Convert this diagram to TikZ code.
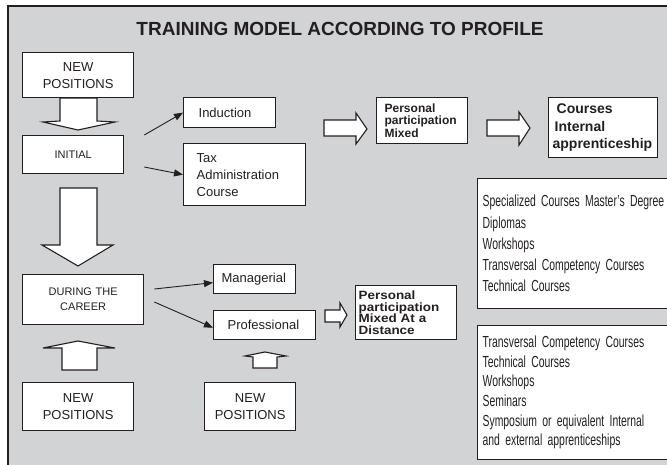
\documentclass[tikz,border=0pt]{standalone}
\usepackage{fontspec}
\setmainfont{Liberation Sans}
\newfontfamily\condfont[FakeStretch=0.65]{Liberation Sans}
\newfontfamily\widefont[FakeStretch=1.12]{Liberation Sans}
\usetikzlibrary{arrows.meta}
\definecolor{panel}{RGB}{209,211,212}
\definecolor{ink}{RGB}{35,31,32}

\begin{document}
\begin{tikzpicture}[x=1pt,y=-1pt,
  box/.style={draw=ink, line width=1.3pt, fill=white, rectangle,
    anchor=north west, text=ink, inner ysep=0pt},
  conn/.style={draw=ink, line width=0.9pt, -{Triangle[length=9pt,width=7pt]}},
  blockarrow/.style={draw=ink, line width=1.1pt, fill=white, line join=miter},
  plain/.style={font=\fontsize{13}{17}\selectfont},
  caps/.style={font=\fontsize{11}{15}\selectfont},
  strong/.style={font=\bfseries\fontsize{12}{12.5}\selectfont},
  list/.style={font=\condfont\fontsize{16}{21.25}\selectfont}]

\useasboundingbox (0,0) rectangle (667,464);
\clip (0,0) rectangle (667,464);

% panel
\draw[fill=panel, draw=ink, line width=1.5pt] (8,6) rectangle (700,500);

% heading
\node[text=ink, font=\bfseries\fontsize{19}{22}\selectfont, inner sep=0pt] (title) at (340,28.5)
  {TRAINING MODEL ACCORDING TO PROFILE};

% left column
\node[box, plain, minimum width=111pt, minimum height=45pt, text width=101pt,
  inner xsep=5pt, align=center] (np1) at (22,52) {NEW\\POSITIONS};
\node[box, caps, minimum width=101pt, minimum height=38pt, text width=91pt,
  inner xsep=5pt, align=center] (initial) at (22,135) {INITIAL};
\node[box, caps, minimum width=121pt, minimum height=50pt, text width=111pt,
  inner xsep=5pt, align=center] (career) at (22,274) {DURING THE\\CAREER};
\node[box, plain, minimum width=111pt, minimum height=48pt, text width=101pt,
  inner xsep=5pt, align=center] (np2) at (22,382) {NEW\\POSITIONS};

% initial branch
\node[box, plain, minimum width=92pt, minimum height=30pt, text width=62pt,
  inner xsep=15pt, align=left] (induction) at (183,97) {Induction};
\node[box, plain, minimum width=122pt, minimum height=62pt, text width=96pt,
  inner xsep=13pt, align=left] (tax) at (183,143) {Tax\\Administration\\Course};

% career branch
\node[box, plain, minimum width=82pt, minimum height=29pt, text width=66pt,
  inner xsep=8pt, align=left] (managerial) at (213,264) {Managerial};
\node[box, plain, minimum width=102pt, minimum height=29pt, text width=74pt,
  inner xsep=14pt, align=left] (professional) at (213,310) {Professional};
\node[box, plain, minimum width=91pt, minimum height=48pt, text width=81pt,
  inner xsep=5pt, align=center] (np3) at (204,382) {NEW\\POSITIONS};

% modalities
\node[box, strong, minimum width=91pt, minimum height=46pt, text width=75pt,
  inner xsep=8pt, align=left] (pp1) at (376,97) {Personal\\participation\\Mixed};
\node[box, font=\bfseries\fontsize{14}{17.5}\selectfont, minimum width=109pt,
  minimum height=60pt, text width=101pt, inner xsep=4pt, align=left] (courses) at (548,97)
  {\hspace*{4pt}Courses\\\hspace*{2pt}Internal\\apprenticeship};
\node[box, font=\widefont\bfseries\fontsize{12}{11.8}\selectfont, minimum width=101pt,
  minimum height=54pt, text width=95pt, inner xsep=3pt, align=left] (pp2) at (355,285)
  {Personal\\participation\\Mixed At a\\Distance};

% offerings
\node[box, list, minimum width=210pt, minimum height=130pt, text width=200pt,
  inner xsep=5pt, align=left] (spec) at (477,178)
  {Specialized Courses Master’s Degree\\Diplomas\\Workshops\\Transversal Competency Courses\\Technical Courses};
\node[box, font=\condfont\fontsize{16}{19.6}\selectfont, minimum width=210pt,
  minimum height=134pt, text width=200pt, inner xsep=5pt, align=left] (trans) at (477,325)
  {Transversal Competency Courses\\Technical Courses\\Workshops\\Seminars\\Symposium or equivalent Internal\\and external apprenticeships};

% thin connectors
\draw[conn] ([xshift=20pt]initial.north east) -- (induction.west);
\draw[conn] ([xshift=20pt,yshift=-32pt]initial.north east) -- (tax.west);
\draw[conn] ([xshift=10pt,yshift=-15pt]career.north east) -- ([yshift=-3.5pt]managerial.west);
\draw[conn] ([xshift=10pt,yshift=-28pt]career.north east) -- ([yshift=-2.5pt]professional.west);

% block arrows
\draw[blockarrow] (60,98) -- (97,98) -- (97,121) -- (115,122) -- (78,130) -- (43,122) -- (60,121) -- cycle;
\draw[blockarrow] (60,188) -- (97,188) -- (97,245) -- (113,245) -- (78,266) -- (42,245) -- (60,245) -- cycle;
\draw[blockarrow] (62,370) -- (97,370) -- (97,348) -- (115,348) -- (78,341) -- (43,348) -- (62,348) -- cycle;
\draw[blockarrow] (253,368) -- (277,368) -- (277,357) -- (286,356) -- (265,352) -- (245,356) -- (253,357) -- cycle;
\draw[blockarrow] (324,120) -- (356,120) -- (356,113) -- (367,129) -- (356,144) -- (356,136) -- (324,136) -- cycle;
\draw[blockarrow] (487,120) -- (519,120) -- (519,112) -- (530,128) -- (519,145) -- (519,136) -- (487,136) -- cycle;
\draw[blockarrow] (325,310) -- (340,310) -- (340,303) -- (347,315) -- (340,327) -- (340,322) -- (325,322) -- cycle;

\end{tikzpicture}
\end{document}
